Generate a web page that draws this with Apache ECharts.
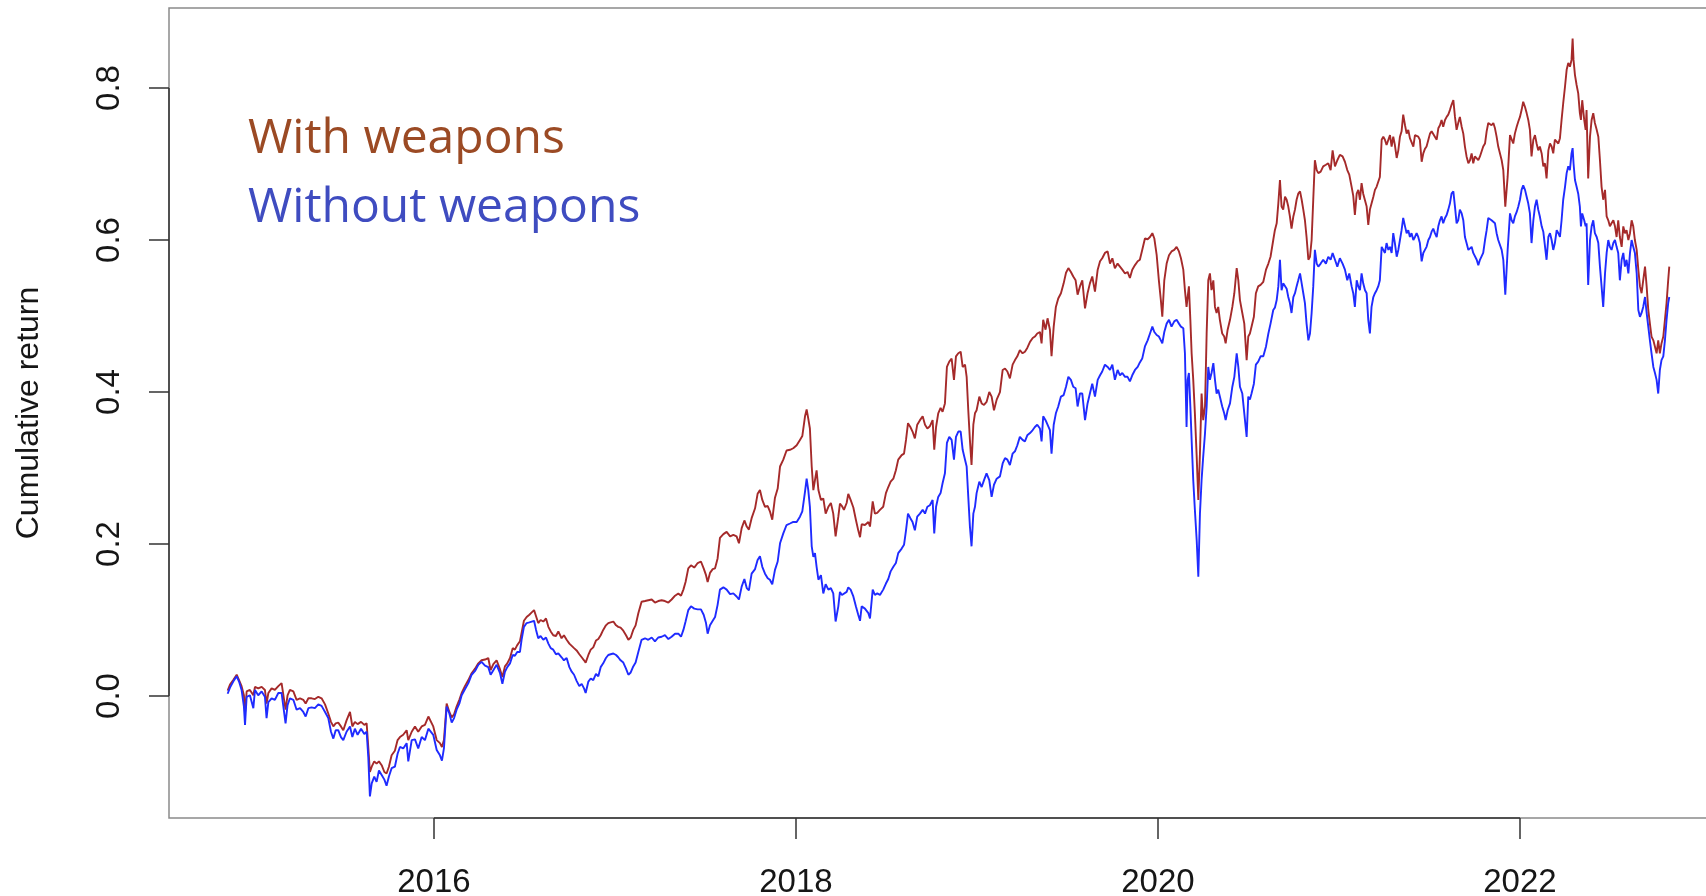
<!DOCTYPE html>
<html>
<head>
<meta charset="utf-8">
<title>Cumulative return: with and without weapons</title>
<script src="https://cdn.jsdelivr.net/npm/echarts/dist/echarts.min.js"></script>
<style>
  html, body { margin: 0; padding: 0; background: #ffffff; }
  #chart { width: 1706px; height: 896px; }
</style>
</head>
<body>
<div id="chart"></div>
<script>
// Observation dates as decimal years
const dates = [
  2014.860, 2014.873, 2014.891, 2014.910, 2014.923, 2014.937, 2014.950, 2014.956, 2014.965, 2014.983,
  2015.002, 2015.011, 2015.029, 2015.048, 2015.066, 2015.075, 2015.085, 2015.103, 2015.121, 2015.140,
  2015.158, 2015.168, 2015.180, 2015.191, 2015.204, 2015.223, 2015.241, 2015.260, 2015.278, 2015.291,
  2015.306, 2015.324, 2015.342, 2015.361, 2015.379, 2015.398, 2015.416, 2015.431, 2015.444, 2015.457,
  2015.471, 2015.486, 2015.499, 2015.517, 2015.536, 2015.549, 2015.563, 2015.578, 2015.597, 2015.615,
  2015.628, 2015.637, 2015.646, 2015.656, 2015.670, 2015.683, 2015.696, 2015.711, 2015.726, 2015.738,
  2015.751, 2015.766, 2015.784, 2015.799, 2015.812, 2015.830, 2015.849, 2015.858, 2015.877, 2015.895,
  2015.913, 2015.932, 2015.950, 2015.969,
  2015.978, 2015.996, 2016.015, 2016.033, 2016.044, 2016.055, 2016.070, 2016.085, 2016.098, 2016.111,
  2016.125, 2016.140, 2016.153, 2016.171, 2016.190, 2016.208, 2016.227, 2016.245, 2016.263, 2016.282,
  2016.300, 2016.313, 2016.328, 2016.346, 2016.365, 2016.378, 2016.392, 2016.405, 2016.420, 2016.435,
  2016.447, 2016.460, 2016.475, 2016.484, 2016.497, 2016.512, 2016.527, 2016.540, 2016.553, 2016.564,
  2016.576, 2016.589, 2016.604, 2016.619, 2016.632, 2016.645, 2016.659, 2016.674, 2016.687, 2016.705,
  2016.718, 2016.733, 2016.748, 2016.761, 2016.774, 2016.788, 2016.803, 2016.816, 2016.829, 2016.838,
  2016.853, 2016.866, 2016.880, 2016.895, 2016.908, 2016.921, 2016.935, 2016.950, 2016.963, 2016.976,
  2016.991, 2017.006, 2017.018, 2017.031, 2017.046, 2017.061, 2017.074, 2017.087, 2017.101,
  2017.114, 2017.129, 2017.147, 2017.166, 2017.184, 2017.203, 2017.221, 2017.239, 2017.258, 2017.276,
  2017.295, 2017.313, 2017.332, 2017.350, 2017.365, 2017.378, 2017.390, 2017.405, 2017.420, 2017.438,
  2017.457, 2017.475, 2017.490, 2017.503, 2017.512, 2017.525, 2017.540, 2017.553, 2017.567, 2017.580,
  2017.599, 2017.617, 2017.636, 2017.654, 2017.672, 2017.685, 2017.700, 2017.715, 2017.728, 2017.740,
  2017.755, 2017.774, 2017.788, 2017.801, 2017.814, 2017.829, 2017.844, 2017.856, 2017.869, 2017.884,
  2017.899, 2017.912, 2017.930, 2017.948, 2017.967, 2017.985, 2018.004, 2018.022, 2018.035, 2018.050,
  2018.059, 2018.068, 2018.077, 2018.087, 2018.096, 2018.105, 2018.114, 2018.124, 2018.138, 2018.151,
  2018.164, 2018.179, 2018.193, 2018.206, 2018.219, 2018.234,
  2018.243, 2018.254, 2018.265, 2018.280, 2018.289, 2018.302, 2018.317, 2018.331, 2018.344, 2018.354,
  2018.363, 2018.381, 2018.400, 2018.409, 2018.424, 2018.436, 2018.449, 2018.464, 2018.482, 2018.497,
  2018.510, 2018.523, 2018.538, 2018.552, 2018.565, 2018.584, 2018.597, 2018.608, 2018.619, 2018.632,
  2018.644, 2018.657, 2018.670, 2018.685, 2018.700, 2018.713, 2018.726, 2018.740, 2018.755, 2018.764,
  2018.774, 2018.786, 2018.799, 2018.810, 2018.823, 2018.834, 2018.847, 2018.860, 2018.873, 2018.884,
  2018.897, 2018.910, 2018.921, 2018.934, 2018.943, 2018.952, 2018.961, 2018.970, 2018.980, 2018.989,
  2018.998, 2019.013, 2019.026, 2019.039, 2019.053, 2019.068, 2019.081, 2019.094, 2019.109, 2019.127,
  2019.142, 2019.155, 2019.168, 2019.182, 2019.197, 2019.210, 2019.223, 2019.237, 2019.252, 2019.265,
  2019.278, 2019.293, 2019.308, 2019.320, 2019.333, 2019.348, 2019.357, 2019.366,
  2019.379, 2019.390, 2019.403, 2019.412, 2019.424, 2019.436, 2019.449, 2019.464, 2019.479, 2019.492,
  2019.505, 2019.519, 2019.532, 2019.545, 2019.556, 2019.569, 2019.582, 2019.597, 2019.611, 2019.624,
  2019.637, 2019.652, 2019.667, 2019.680, 2019.692, 2019.707, 2019.722, 2019.735, 2019.748, 2019.762,
  2019.777, 2019.790, 2019.803, 2019.818, 2019.832, 2019.845, 2019.858, 2019.873, 2019.888, 2019.900,
  2019.913, 2019.928, 2019.943, 2019.956, 2019.969, 2019.980, 2019.993, 2020.005, 2020.016, 2020.024,
  2020.035, 2020.048, 2020.061, 2020.075, 2020.090, 2020.103, 2020.116, 2020.127, 2020.140, 2020.149,
  2020.158, 2020.164, 2020.171, 2020.179, 2020.186, 2020.195, 2020.204, 2020.214, 2020.223, 2020.232,
  2020.241, 2020.250, 2020.260, 2020.269, 2020.278, 2020.287, 2020.296, 2020.306, 2020.315, 2020.324,
  2020.333, 2020.342, 2020.355, 2020.366, 2020.374, 2020.385, 2020.398, 2020.411, 2020.422, 2020.435,
  2020.444, 2020.453, 2020.466, 2020.477, 2020.490, 2020.499,
  2020.508, 2020.517, 2020.530, 2020.541, 2020.554, 2020.567, 2020.582, 2020.597, 2020.610, 2020.622,
  2020.637, 2020.646, 2020.656, 2020.665, 2020.674, 2020.683, 2020.692, 2020.702, 2020.711, 2020.720,
  2020.729, 2020.738, 2020.748, 2020.757, 2020.766, 2020.775, 2020.785, 2020.794, 2020.803, 2020.812,
  2020.821, 2020.831, 2020.840, 2020.849, 2020.858, 2020.867, 2020.877, 2020.886, 2020.899, 2020.913,
  2020.928, 2020.941, 2020.954, 2020.965, 2020.978, 2020.991, 2021.005, 2021.020, 2021.033, 2021.046,
  2021.057, 2021.070, 2021.079, 2021.088, 2021.098, 2021.107, 2021.116, 2021.125, 2021.134, 2021.144,
  2021.153, 2021.162, 2021.171, 2021.180, 2021.190, 2021.199, 2021.208, 2021.217, 2021.226, 2021.236,
  2021.245, 2021.254, 2021.263, 2021.273, 2021.282, 2021.291, 2021.300, 2021.309, 2021.319, 2021.328,
  2021.337, 2021.346, 2021.355, 2021.365, 2021.374, 2021.383, 2021.392, 2021.401, 2021.411, 2021.420,
  2021.429, 2021.438, 2021.447, 2021.457, 2021.466, 2021.475, 2021.484, 2021.494, 2021.503, 2021.512,
  2021.521, 2021.530, 2021.540, 2021.549, 2021.558, 2021.567, 2021.576, 2021.586, 2021.595, 2021.604,
  2021.613, 2021.622, 2021.632,
  2021.641, 2021.650, 2021.659, 2021.668, 2021.678, 2021.687, 2021.696, 2021.705, 2021.715, 2021.724,
  2021.733, 2021.742, 2021.751, 2021.761, 2021.770, 2021.779, 2021.788, 2021.797, 2021.807, 2021.816,
  2021.825, 2021.834, 2021.843, 2021.853, 2021.862, 2021.871, 2021.880, 2021.889, 2021.899, 2021.908,
  2021.919, 2021.932, 2021.945, 2021.954, 2021.963, 2021.972, 2021.982, 2021.991, 2022.000, 2022.009,
  2022.018, 2022.028, 2022.037, 2022.046, 2022.055, 2022.064, 2022.074, 2022.083, 2022.092, 2022.101,
  2022.110, 2022.120, 2022.129, 2022.138, 2022.147, 2022.157, 2022.166, 2022.175, 2022.184, 2022.193,
  2022.203, 2022.212, 2022.221, 2022.230, 2022.239, 2022.249, 2022.258, 2022.267, 2022.276, 2022.285,
  2022.291, 2022.296, 2022.304, 2022.313, 2022.322, 2022.331, 2022.337, 2022.344, 2022.355, 2022.363,
  2022.368, 2022.377, 2022.387, 2022.396, 2022.405, 2022.414, 2022.424, 2022.433, 2022.442, 2022.451,
  2022.460, 2022.470, 2022.479, 2022.488, 2022.497, 2022.506, 2022.516, 2022.525, 2022.534, 2022.543,
  2022.552, 2022.562, 2022.571, 2022.580, 2022.589, 2022.599, 2022.608, 2022.617, 2022.626, 2022.635,
  2022.645, 2022.654, 2022.663, 2022.672, 2022.681, 2022.691, 2022.700, 2022.709, 2022.718, 2022.727,
  2022.737, 2022.746, 2022.755, 2022.764, 2022.773, 2022.782, 2022.792, 2022.801, 2022.810, 2022.819,
  2022.825
];

// Cumulative return of the portfolio that includes weapons makers
const withWeapons = [
  0.007, 0.015, 0.021, 0.028, 0.021, 0.013, 0.001, -0.023, 0.006, 0.008,
  0.001, 0.012, 0.010, 0.012, 0.008, -0.010, 0.004, 0.010, 0.008, 0.013,
  0.017, 0.019, -0.018, 0.001, 0.008, 0.006, -0.005, -0.003, -0.005, -0.010,
  -0.003, -0.003, -0.004, -0.001, -0.003, -0.011, -0.023, -0.034, -0.040, -0.036,
  -0.035, -0.040, -0.045, -0.032, -0.021, -0.040, -0.034, -0.037, -0.034, -0.038,
  -0.036, -0.067, -0.100, -0.093, -0.086, -0.089, -0.086, -0.091, -0.100, -0.102,
  -0.093, -0.078, -0.072, -0.058, -0.054, -0.051, -0.045, -0.058, -0.047, -0.040,
  -0.047, -0.040, -0.038, -0.027,
  -0.027, -0.040, -0.058, -0.062, -0.067, -0.058, -0.010, -0.021, -0.028, -0.024,
  -0.014, -0.005, 0.004, 0.013, 0.021, 0.030, 0.036, 0.043, 0.047, 0.048,
  0.050, 0.034, 0.042, 0.047, 0.035, 0.025, 0.039, 0.043, 0.050, 0.063,
  0.061, 0.067, 0.072, 0.083, 0.099, 0.104, 0.107, 0.110, 0.113, 0.105,
  0.096, 0.100, 0.098, 0.102, 0.091, 0.085, 0.080, 0.079, 0.085, 0.076,
  0.080, 0.074, 0.069, 0.066, 0.063, 0.060, 0.055, 0.051, 0.047, 0.044,
  0.054, 0.061, 0.064, 0.073, 0.075, 0.080, 0.087, 0.093, 0.096, 0.097,
  0.098, 0.093, 0.091, 0.090, 0.086, 0.080, 0.074, 0.077, 0.087,
  0.093, 0.109, 0.124, 0.125, 0.126, 0.127, 0.123, 0.125, 0.126, 0.125,
  0.123, 0.127, 0.132, 0.135, 0.132, 0.140, 0.150, 0.168, 0.172, 0.169,
  0.175, 0.177, 0.168, 0.159, 0.150, 0.162, 0.167, 0.168, 0.181, 0.208,
  0.213, 0.216, 0.210, 0.212, 0.210, 0.201, 0.221, 0.231, 0.223, 0.219,
  0.234, 0.247, 0.266, 0.271, 0.258, 0.249, 0.250, 0.243, 0.232, 0.261,
  0.273, 0.302, 0.311, 0.323, 0.324, 0.326, 0.330, 0.337, 0.342, 0.368,
  0.377, 0.365, 0.352, 0.302, 0.271, 0.284, 0.297, 0.271, 0.258, 0.260,
  0.240, 0.249, 0.254, 0.240, 0.210, 0.236,
  0.253, 0.250, 0.245, 0.254, 0.266, 0.258, 0.248, 0.232, 0.218, 0.209,
  0.226, 0.225, 0.229, 0.223, 0.256, 0.240, 0.241, 0.245, 0.249, 0.267,
  0.275, 0.282, 0.286, 0.297, 0.311, 0.317, 0.319, 0.337, 0.359, 0.354,
  0.348, 0.339, 0.357, 0.363, 0.368, 0.357, 0.352, 0.355, 0.363, 0.324,
  0.354, 0.372, 0.379, 0.374, 0.385, 0.433, 0.440, 0.444, 0.416, 0.447,
  0.451, 0.453, 0.433, 0.436, 0.420, 0.376, 0.337, 0.304, 0.357, 0.372,
  0.376, 0.394, 0.385, 0.383, 0.387, 0.400, 0.394, 0.376, 0.390, 0.400,
  0.429, 0.431, 0.427, 0.418, 0.436, 0.442, 0.447, 0.455, 0.451, 0.453,
  0.458, 0.466, 0.471, 0.473, 0.477, 0.479, 0.464, 0.495,
  0.482, 0.497, 0.482, 0.447, 0.486, 0.512, 0.523, 0.530, 0.543, 0.557,
  0.563, 0.558, 0.552, 0.547, 0.528, 0.539, 0.547, 0.510, 0.530, 0.543,
  0.552, 0.532, 0.561, 0.572, 0.576, 0.583, 0.585, 0.569, 0.576, 0.563,
  0.569, 0.565, 0.561, 0.556, 0.558, 0.550, 0.561, 0.567, 0.572, 0.574,
  0.587, 0.602, 0.601, 0.604, 0.609, 0.602, 0.580, 0.547, 0.521, 0.499,
  0.547, 0.569, 0.580, 0.585, 0.587, 0.591, 0.585, 0.576, 0.561, 0.534,
  0.512, 0.525, 0.539, 0.495, 0.451, 0.416, 0.372, 0.315, 0.258, 0.319,
  0.398, 0.363, 0.381, 0.477, 0.547, 0.556, 0.534, 0.547, 0.512, 0.504,
  0.512, 0.495, 0.477, 0.473, 0.464, 0.482, 0.495, 0.512, 0.530, 0.563,
  0.547, 0.521, 0.504, 0.490, 0.442, 0.473,
  0.477, 0.486, 0.499, 0.530, 0.539, 0.541, 0.545, 0.561, 0.569, 0.578,
  0.600, 0.613, 0.622, 0.648, 0.679, 0.644, 0.640, 0.657, 0.653, 0.644,
  0.631, 0.615, 0.631, 0.640, 0.653, 0.661, 0.664, 0.653, 0.640, 0.626,
  0.604, 0.574, 0.578, 0.600, 0.653, 0.705, 0.692, 0.688, 0.690, 0.697,
  0.699, 0.701, 0.692, 0.718, 0.697, 0.705, 0.712, 0.710, 0.703, 0.692,
  0.686, 0.670, 0.658, 0.633, 0.661, 0.666, 0.653, 0.675, 0.661, 0.659,
  0.644, 0.620, 0.640, 0.648, 0.657, 0.666, 0.670, 0.672, 0.683, 0.732,
  0.736, 0.732, 0.725, 0.732, 0.738, 0.723, 0.736, 0.725, 0.708, 0.718,
  0.736, 0.743, 0.765, 0.751, 0.740, 0.745, 0.734, 0.736, 0.723, 0.738,
  0.740, 0.736, 0.732, 0.703, 0.714, 0.720, 0.723, 0.732, 0.740, 0.743,
  0.745, 0.736, 0.732, 0.747, 0.751, 0.758, 0.749, 0.758, 0.762, 0.765,
  0.771, 0.778, 0.784,
  0.762, 0.745, 0.754, 0.762, 0.749, 0.740, 0.723, 0.710, 0.701, 0.705,
  0.714, 0.701, 0.710, 0.712, 0.705, 0.710, 0.712, 0.723, 0.727, 0.743,
  0.754, 0.756, 0.751, 0.754, 0.747, 0.736, 0.723, 0.723, 0.705, 0.692,
  0.644, 0.683, 0.738, 0.736, 0.727, 0.740, 0.749, 0.756, 0.762, 0.771,
  0.782, 0.775, 0.767, 0.758, 0.745, 0.710, 0.732, 0.738, 0.727, 0.718,
  0.723, 0.714, 0.697, 0.701, 0.681, 0.718, 0.727, 0.723, 0.714, 0.732,
  0.732, 0.727, 0.734, 0.758, 0.780, 0.802, 0.824, 0.833, 0.828, 0.837,
  0.865, 0.837, 0.817, 0.804, 0.793, 0.767, 0.758, 0.784, 0.758, 0.745,
  0.771, 0.681, 0.736, 0.758, 0.767, 0.754, 0.745, 0.736, 0.705, 0.670,
  0.653, 0.666, 0.631, 0.626, 0.618, 0.622, 0.626, 0.618, 0.604, 0.626,
  0.604, 0.591, 0.618, 0.609, 0.613, 0.600, 0.609, 0.626, 0.618, 0.600,
  0.587, 0.561, 0.539, 0.530, 0.547, 0.565, 0.539, 0.508, 0.490, 0.473,
  0.468, 0.468, 0.451, 0.468, 0.451, 0.464, 0.473, 0.495, 0.517, 0.547,
  0.565
];

// Cumulative return of the same portfolio with weapons makers excluded
const withoutWeapons = [
  0.003, 0.011, 0.019, 0.026, 0.019, 0.008, -0.014, -0.038, -0.001, 0.001,
  -0.016, 0.008, 0.001, 0.006, -0.001, -0.029, -0.008, -0.003, -0.005, 0.004,
  0.004, 0.006, -0.036, -0.012, -0.003, -0.005, -0.018, -0.016, -0.021, -0.027,
  -0.016, -0.015, -0.016, -0.011, -0.013, -0.021, -0.029, -0.047, -0.056, -0.045,
  -0.045, -0.054, -0.058, -0.047, -0.040, -0.054, -0.043, -0.051, -0.043, -0.050,
  -0.047, -0.080, -0.132, -0.115, -0.106, -0.113, -0.098, -0.104, -0.110, -0.118,
  -0.106, -0.095, -0.093, -0.076, -0.067, -0.069, -0.062, -0.086, -0.058, -0.057,
  -0.069, -0.054, -0.058, -0.043,
  -0.043, -0.051, -0.071, -0.078, -0.085, -0.069, -0.014, -0.023, -0.035, -0.029,
  -0.018, -0.010, 0.001, 0.009, 0.017, 0.028, 0.033, 0.041, 0.045, 0.040,
  0.038, 0.028, 0.034, 0.041, 0.030, 0.016, 0.032, 0.038, 0.043, 0.054,
  0.053, 0.058, 0.058, 0.074, 0.091, 0.096, 0.097, 0.098, 0.099, 0.087,
  0.076, 0.079, 0.074, 0.077, 0.069, 0.063, 0.061, 0.055, 0.056, 0.051,
  0.047, 0.050, 0.038, 0.032, 0.028, 0.020, 0.013, 0.016, 0.010, 0.004,
  0.019, 0.023, 0.021, 0.029, 0.026, 0.038, 0.043, 0.050, 0.054, 0.055,
  0.056, 0.054, 0.051, 0.047, 0.044, 0.036, 0.028, 0.031, 0.039,
  0.044, 0.058, 0.074, 0.076, 0.074, 0.077, 0.072, 0.077, 0.078, 0.080,
  0.075, 0.078, 0.082, 0.082, 0.078, 0.087, 0.098, 0.113, 0.118, 0.115,
  0.114, 0.114, 0.107, 0.096, 0.082, 0.093, 0.099, 0.104, 0.120, 0.140,
  0.143, 0.140, 0.134, 0.135, 0.131, 0.127, 0.144, 0.154, 0.142, 0.139,
  0.161, 0.167, 0.179, 0.184, 0.170, 0.161, 0.155, 0.153, 0.147, 0.166,
  0.177, 0.201, 0.214, 0.225, 0.227, 0.229, 0.229, 0.236, 0.243, 0.269,
  0.286, 0.271, 0.249, 0.197, 0.183, 0.188, 0.170, 0.153, 0.159, 0.135,
  0.147, 0.140, 0.142, 0.135, 0.098, 0.118,
  0.137, 0.133, 0.133, 0.137, 0.143, 0.140, 0.131, 0.118, 0.107, 0.099,
  0.118, 0.115, 0.109, 0.102, 0.140, 0.133, 0.135, 0.133, 0.140, 0.148,
  0.154, 0.164, 0.170, 0.175, 0.188, 0.194, 0.199, 0.218, 0.240, 0.234,
  0.229, 0.218, 0.236, 0.240, 0.245, 0.240, 0.249, 0.251, 0.258, 0.214,
  0.249, 0.262, 0.267, 0.280, 0.293, 0.333, 0.341, 0.337, 0.311, 0.341,
  0.348, 0.348, 0.324, 0.311, 0.302, 0.262, 0.223, 0.197, 0.240, 0.249,
  0.267, 0.282, 0.275, 0.284, 0.293, 0.284, 0.262, 0.278, 0.286, 0.289,
  0.306, 0.313, 0.311, 0.304, 0.319, 0.322, 0.330, 0.341, 0.337, 0.335,
  0.343, 0.346, 0.350, 0.354, 0.357, 0.352, 0.335, 0.368,
  0.363, 0.365, 0.350, 0.319, 0.357, 0.372, 0.381, 0.394, 0.396, 0.407,
  0.420, 0.416, 0.407, 0.405, 0.381, 0.398, 0.398, 0.363, 0.385, 0.398,
  0.411, 0.394, 0.416, 0.422, 0.427, 0.436, 0.433, 0.429, 0.436, 0.416,
  0.429, 0.422, 0.425, 0.420, 0.420, 0.414, 0.422, 0.429, 0.433, 0.439,
  0.444, 0.460, 0.468, 0.477, 0.486, 0.479, 0.475, 0.473, 0.468, 0.464,
  0.479, 0.490, 0.495, 0.486, 0.493, 0.495, 0.490, 0.486, 0.484, 0.451,
  0.354, 0.416, 0.425, 0.381, 0.337, 0.284, 0.245, 0.205, 0.157, 0.240,
  0.284, 0.315, 0.346, 0.381, 0.433, 0.416, 0.425, 0.438, 0.416, 0.398,
  0.403, 0.394, 0.381, 0.372, 0.363, 0.376, 0.385, 0.407, 0.420, 0.451,
  0.433, 0.407, 0.398, 0.372, 0.341, 0.394,
  0.390, 0.398, 0.411, 0.436, 0.440, 0.447, 0.447, 0.460, 0.477, 0.490,
  0.508, 0.511, 0.521, 0.539, 0.574, 0.534, 0.543, 0.543, 0.536, 0.525,
  0.517, 0.504, 0.525, 0.530, 0.539, 0.547, 0.556, 0.543, 0.530, 0.517,
  0.490, 0.468, 0.477, 0.504, 0.539, 0.587, 0.569, 0.565, 0.569, 0.574,
  0.569, 0.578, 0.574, 0.583, 0.574, 0.565, 0.576, 0.569, 0.561, 0.547,
  0.556, 0.539, 0.530, 0.512, 0.547, 0.539, 0.534, 0.556, 0.543, 0.534,
  0.530, 0.495, 0.477, 0.512, 0.525, 0.530, 0.534, 0.539, 0.547, 0.591,
  0.587, 0.583, 0.596, 0.587, 0.591, 0.583, 0.609, 0.596, 0.578, 0.587,
  0.600, 0.613, 0.629, 0.618, 0.609, 0.613, 0.604, 0.609, 0.600, 0.604,
  0.609, 0.604, 0.596, 0.572, 0.583, 0.587, 0.591, 0.600, 0.604, 0.611,
  0.615, 0.609, 0.604, 0.618, 0.626, 0.631, 0.622, 0.629, 0.633, 0.640,
  0.648, 0.661, 0.664,
  0.644, 0.622, 0.626, 0.640, 0.635, 0.626, 0.604, 0.596, 0.587, 0.587,
  0.591, 0.583, 0.583, 0.574, 0.567, 0.574, 0.576, 0.583, 0.600, 0.613,
  0.629, 0.631, 0.626, 0.626, 0.622, 0.609, 0.600, 0.598, 0.587, 0.574,
  0.528, 0.587, 0.635, 0.626, 0.622, 0.631, 0.637, 0.644, 0.653, 0.666,
  0.672, 0.666, 0.657, 0.648, 0.635, 0.596, 0.626, 0.644, 0.653, 0.640,
  0.631, 0.618, 0.611, 0.609, 0.574, 0.604, 0.609, 0.600, 0.587, 0.596,
  0.613, 0.609, 0.604, 0.626, 0.653, 0.670, 0.688, 0.697, 0.692, 0.714,
  0.721, 0.701, 0.679, 0.670, 0.661, 0.644, 0.618, 0.635, 0.626, 0.618,
  0.622, 0.541, 0.600, 0.618, 0.626, 0.609, 0.604, 0.596, 0.565, 0.539,
  0.512, 0.556, 0.583, 0.600, 0.591, 0.587, 0.596, 0.600, 0.591, 0.583,
  0.547, 0.574, 0.583, 0.565, 0.574, 0.556, 0.583, 0.600, 0.591, 0.583,
  0.556, 0.508, 0.499, 0.504, 0.512, 0.525, 0.504, 0.486, 0.468, 0.451,
  0.433, 0.425, 0.416, 0.398, 0.429, 0.442, 0.447, 0.468, 0.495, 0.517,
  0.525
];

// Axis ticks
const yearTicks = [2016, 2018, 2020, 2022];
const returnTicks = [0, 0.2, 0.4, 0.6, 0.8];

// Series names
const seriesNames = ['With weapons', 'Without weapons'];

// Plot frame and scale extents (the frame runs past the right edge of the page)
const X_MIN = 2014.536, X_MAX = 2023.155;
const Y_MIN = -0.1605, Y_MAX = 0.9053;
const TEXT = '#161616';
const TICK_FONT = { fontFamily: 'Liberation Sans, Arial, sans-serif', fontSize: 33, color: TEXT };

const chart = echarts.init(document.getElementById('chart'), null, { renderer: 'canvas' });

const pairs = (vals) => dates.map((d, i) => [d, vals[i]]);

chart.setOption({
  animation: false,
  backgroundColor: '#ffffff',
  grid: {
    left: 169, top: 8, width: 1560, height: 810,
    outerBoundsMode: 'none',
    containLabel: false,
    show: true, borderColor: '#8a8a8a', borderWidth: 1.5, backgroundColor: 'transparent'
  },
  legend: {
    data: [
      { name: seriesNames[0], textStyle: { color: '#9b4a24' } },
      { name: seriesNames[1], textStyle: { color: '#3f4cc0' } }
    ],
    orient: 'vertical',
    left: 238, top: 104,
    icon: 'none', itemWidth: 0, itemHeight: 0, itemGap: 9,
    selectedMode: false,
    textStyle: { fontFamily: 'Open Sans, sans-serif', fontSize: 48, lineHeight: 60 }
  },
  xAxis: {
    type: 'value',
    min: X_MIN, max: X_MAX,
    axisLine: { show: false, onZero: false },
    splitLine: { show: false },
    axisTick: {
      customValues: yearTicks, length: 21,
      lineStyle: { color: '#333333', width: 1.5 }
    },
    axisLabel: {
      customValues: yearTicks, margin: 48,
      formatter: (v) => String(Math.round(v)),
      ...TICK_FONT
    }
  },
  yAxis: {
    type: 'value',
    min: Y_MIN, max: Y_MAX,
    name: 'Cumulative return',
    nameLocation: 'middle',
    nameGap: 124,
    nameTextStyle: { fontFamily: 'Liberation Sans, Arial, sans-serif', fontSize: 32, color: TEXT },
    axisLine: { show: false, onZero: false },
    splitLine: { show: false },
    axisTick: {
      customValues: returnTicks, length: 20,
      lineStyle: { color: '#333333', width: 1.5 }
    },
    axisLabel: {
      customValues: returnTicks, rotate: 90, margin: 43,
      formatter: (v) => v.toFixed(1),
      ...TICK_FONT
    }
  },
  series: [
    {
      name: seriesNames[0],
      type: 'line',
      data: pairs(withWeapons),
      showSymbol: false,
      sampling: 'none',
      clip: false,
      lineStyle: { color: '#a52a2a', width: 1.9 },
      itemStyle: { color: '#a52a2a' },
      emphasis: { disabled: true },
      z: 2,
      // axis segments spanning the first to the last tick
      markLine: {
        silent: true,
        symbol: 'none',
        label: { show: false },
        lineStyle: { color: '#333333', width: 1.5, type: 'solid' },
        emphasis: { disabled: true },
        data: [
          [{ coord: [yearTicks[0], Y_MIN] }, { coord: [yearTicks[yearTicks.length - 1], Y_MIN] }],
          [{ coord: [X_MIN, returnTicks[0]] }, { coord: [X_MIN, returnTicks[returnTicks.length - 1]] }]
        ]
      }
    },
    {
      name: seriesNames[1],
      type: 'line',
      data: pairs(withoutWeapons),
      showSymbol: false,
      sampling: 'none',
      clip: false,
      lineStyle: { color: '#1f2bff', width: 1.9 },
      itemStyle: { color: '#1f2bff' },
      emphasis: { disabled: true },
      z: 3
    }
  ]
});
</script>
</body>
</html>
